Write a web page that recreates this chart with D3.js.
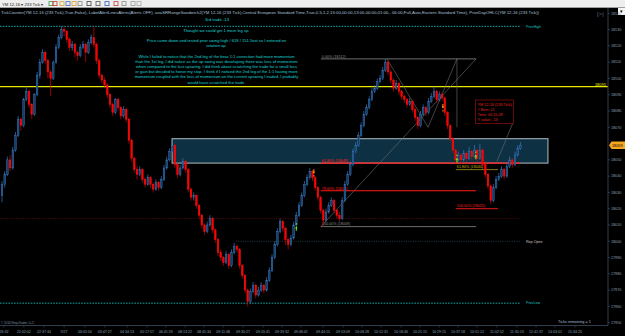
<!DOCTYPE html>
<html><head><meta charset="utf-8">
<script src="https://cdn.jsdelivr.net/npm/d3@7"></script>
<style>html,body{margin:0;padding:0;background:#000;overflow:hidden}svg{display:block;font-family:"Liberation Sans",Arial,sans-serif}</style>
</head><body><svg id="c" width="625" height="336"></svg>
<script>
// ---- data (YM 12-16, 233 tick bars) ----
const firstOpen = 18028;
const closes = [18035,18041,18050,18045,18056,18065,18075,18071,18087,18092,18084,18078,18090,18102,18110,18116,18111,18104,18100,18110,
18119,18125,18130,18129,18124,18119,18121,18116,18114,18119,18121,18116,18122,18125,18121,18111,18102,18099,18096,18090,
18084,18079,18087,18082,18077,18081,18075,18062,18051,18044,18041,18044,18038,18035,18039,18035,18032,18036,18033,18038,
18045,18050,18055,18059,18047,18041,18045,18049,18044,18032,18027,18028,18022,18016,18010,18006,18010,18014,18007,18001,
17993,17990,17987,17992,17985,17993,17997,17995,17985,17979,17970,17963,17969,17973,17967,17970,17973,17970,17976,17982,
17990,17998,18006,18012,18008,18001,17998,18002,18010,18016,18022,18028,18035,18039,18043,18039,18033,18027,18019,18013,
18018,18022,18025,18019,18016,18014,18025,18035,18041,18047,18055,18059,18065,18071,18078,18082,18087,18092,18094,18098,
18100,18105,18110,18104,18099,18094,18097,18092,18089,18087,18084,18086,18081,18076,18071,18078,18082,18079,18086,18089,
18092,18087,18090,18088,18079,18071,18063,18056,18050,18053,18050,18054,18051,18055,18052,18056,18051,18056,18047,18041,
18034,18025,18033,18038,18040,18044,18040,18046,18050,18047,18053,18057,18059];
const highs = [18037,18043,18052,18053,18058,18067,18077,18076,18088,18095,18093,18085,18091,18104,18112,18118,18117,18112,18105,18111,
18121,18127,18132,18132,18130,18125,18123,18122,18117,18121,18123,18122,18124,18127,18132,18122,18112,18103,18101,18097,
18091,18085,18088,18088,18083,18083,18082,18076,18063,18052,18046,18046,18045,18039,18041,18040,18036,18038,18037,18040,
18047,18052,18057,18062,18060,18048,18047,18051,18050,18045,18033,18030,18029,18023,18017,18011,18012,18016,18015,18008,
18002,17995,17991,17994,17993,17995,17999,17998,17996,17986,17980,17971,17971,17975,17974,17972,17975,17974,17978,17984,
17992,18000,18008,18014,18013,18009,18002,18004,18012,18018,18024,18030,18037,18041,18045,18044,18040,18034,18028,18020,
18020,18024,18027,18026,18020,18018,18027,18037,18043,18049,18057,18061,18067,18073,18080,18084,18089,18094,18096,18100,
18102,18107,18112,18111,18105,18100,18099,18098,18093,18090,18088,18088,18087,18082,18077,18080,18084,18083,18088,18091,
18095,18093,18092,18091,18089,18080,18072,18064,18057,18055,18054,18056,18055,18058,18056,18059,18057,18060,18057,18048,
18042,18035,18035,18040,18042,18046,18045,18048,18052,18051,18055,18059,18061];
const lows = [18024,18033,18040,18043,18044,18055,18064,18068,18070,18086,18082,18075,18077,18089,18100,18109,18109,18100,18089,18099,
18109,18118,18124,18126,18122,18117,18117,18113,18111,18113,18118,18110,18115,18121,18119,18109,18100,18097,18094,18088,
18082,18077,18078,18080,18075,18076,18073,18060,18049,18042,18038,18040,18036,18033,18034,18033,18030,18031,18031,18032,
18037,18044,18049,18054,18045,18039,18040,18044,18042,18030,18025,18025,18020,18014,18008,18004,18005,18009,18005,17999,
17991,17988,17985,17986,17983,17984,17992,17993,17983,17977,17968,17960,17962,17968,17965,17966,17969,17968,17969,17975,
17981,17989,17997,18005,18006,17998,17995,17997,18001,18009,18015,18021,18027,18034,18038,18037,18031,18025,18017,18009,
18012,18017,18021,18017,18014,18012,18013,18024,18034,18040,18046,18054,18058,18064,18070,18077,18081,18086,18091,18093,
18097,18099,18104,18102,18097,18092,18093,18090,18087,18085,18082,18083,18079,18074,18069,18070,18077,18077,18078,18085,
18088,18085,18086,18086,18077,18069,18061,18054,18048,18049,18048,18049,18049,18050,18050,18051,18049,18050,18045,18039,
18032,18023,18024,18032,18037,18039,18038,18039,18045,18045,18046,18052,18056];

const priceTicks = [17950,17960,17970,17980,17990,18000,18010,18020,18030,18040,18050,18070,18080,18090,18100,18110,18120,18130,18140];
const timeTickIdx = [0.7,8.1,15.6,23,30.7,38.1,46.3,53.7,60.7,67.8,74.8,81.9,89.3,96.7,103.7,110.7,118.9,126.3,133.3,140.4,147.8,154.8,161.9,168.9,175.9,183.3,190.7,197.8,204.8,212.2];
const timeTickLabels = ["26:32","22:02:02","22:37:44","9/27","03:05:54","03:47:27","04:34:13","05:17:57","06:41:59","08:13:22","08:45:34","09:11:48","09:30:27","09:20:41","09:33:32","09:48:41","09:44:15","09:53:09","10:08:28","10:12:31","10:18:46","10:21:15","10:29:15","10:37:18","10:51:12","11:02:52","11:30:13","12:41:37","14:03:01","15:34:25"];

const prevHigh = 18132, prevLow = 17962, yellowLevel = 18095, redDotted = 18014, repOpen = 18000, lastPrice = 18059;
const zoneTop = 18063, zoneBottom = 18048, zoneStartIdx = 63, zoneEndIdx = 202.2;

const fibLabels = ["0.00% (18112)","61.80% (18048)","78.60% (18031)","100.00% (18009)"];
const fibValues = [18112,18048,18031,18009];
const fibEndIdx = [175.6,191.9,175.6,175.6];
const fibColors = ["#8a8a8a","#ff1a1a","#ff1a1a","#8a8a8a"];
const fib2Labels = ["61.80% (18044)","100.00% (18020)"];
const fib2Values = [18044,18020];
const fib2Colors = ["#c8b400","#ff1a1a"];

const upArrows = [[109,18008],[168.5,18050],[175.5,18052]];
const downArrows = [[115.5,18043],[163.3,18083]];

const noteLines = ["Thought we could get 1 more leg up.","",
"Price came down and tested prior swing high / 618 / 151.5ext so I entered on","rotation up.","",
"While I failed to notice that the 2nd leg of the bear 1:1 correction had more momentum",
"than the 1st leg, I did notice as the up swing was developing there was loss of momentum",
"when compared to the last upswing.  I did think about scratching the trade for a small loss",
"or gain but decided to honor my stop.  I think if I noticed the 2nd leg of the 1:1 having more",
"momentum coupled with the loss of momentum on the current upswing I traded, I probably",
"would have scratched the trade."];
const infoLines = ["YM 12-16 (233 Tick)","# Bars:  11","Time:     00:15:28","Y value:  -13"];
const titleText = "TickCounter(YM 12-16 (233 Tick),True,False), LabelAlertLinesAlerts(Alerts OFF), anaSRRangeSandwich2(YM 12-16 (233 Tick),Central European Standard Time,True,0.5,1,2,15:00,00:00,13:00,00:00,01:00,- 06:00,Full,Auto,Eastern Standard Time), PriorDayOHLC(YM 12-16 (233 Tick))";

// ---- scales ----
const svg = d3.select("#c");
const xs = d3.scaleLinear().domain([0,192]).range([2,520.4]);
const ys = d3.scaleLinear().domain([17950,18140]).range([322.7,13.3]);
const axisX = 608, axisY = 325.5, plotRight = 520;

svg.append("rect").attr("width",625).attr("height",336).attr("fill","#000");

// toolbar
svg.append("rect").attr("x",0).attr("y",0).attr("width",625).attr("height",7.5).attr("fill","#eeeeee");
svg.append("line").attr("x1",0).attr("x2",625).attr("y1",7.5).attr("y2",7.5).attr("stroke","#b8b8b8").attr("stroke-width",0.6);
svg.append("text").attr("x",2).attr("y",5.6).attr("font-size",4.2).attr("fill","#222").text("YM 12-16 ▾  233 Tick ▾");
const iconCols = ["#3a9a3a","#d03030","#d8b020","#4070c0","#e0a020","#888","#444","#555","#3060c0","#c04040","#888","#999","#aaa"];
const iconX = [49,53,60,66,72,78,87,96,105,114,122,131,137];
iconX.forEach((x,i)=>svg.append("rect").attr("x",x).attr("y",1.6).attr("width",4).attr("height",4).attr("fill","none").attr("stroke",iconCols[i]).attr("stroke-width",0.8));
svg.append("rect").attr("x",618).attr("y",8).attr("width",7).attr("height",7).attr("fill","#f4f4f4");
svg.append("text").attr("x",621.5).attr("y",13).attr("font-size",4.5).attr("text-anchor","middle").attr("fill","#000").text("▾");

// title
svg.append("text").attr("x",1).attr("y",13.6).attr("font-size",4.2).attr("fill","#a9c1da")
  .attr("textLength",538).attr("lengthAdjust","spacingAndGlyphs").text(titleText);
svg.append("text").attr("x",597).attr("y",16).attr("font-size",6).attr("fill","#5a6a7a").text("[>|");

// zone
svg.append("rect").attr("x",xs(zoneStartIdx)).attr("y",ys(zoneTop)).attr("width",xs(zoneEndIdx)-xs(zoneStartIdx))
  .attr("height",ys(zoneBottom)-ys(zoneTop)).attr("fill","#0d3142").attr("stroke","#a3adb5").attr("stroke-width",1.1);

// level lines
svg.append("line").attr("x1",0).attr("x2",plotRight).attr("y1",ys(prevHigh)).attr("y2",ys(prevHigh)).attr("stroke","#12bcbc").attr("stroke-width",0.9).attr("stroke-dasharray","1.6,1.2");
svg.append("line").attr("x1",0).attr("x2",plotRight).attr("y1",ys(prevLow)).attr("y2",ys(prevLow)).attr("stroke","#12bcbc").attr("stroke-width",0.9).attr("stroke-dasharray","1.6,1.2");
svg.append("line").attr("x1",0).attr("x2",plotRight).attr("y1",ys(redDotted)).attr("y2",ys(redDotted)).attr("stroke","#7a0c0c").attr("stroke-width",0.7).attr("stroke-dasharray","1,1.3");
svg.append("line").attr("x1",xs(86.6)).attr("x2",plotRight).attr("y1",ys(repOpen)).attr("y2",ys(repOpen)).attr("stroke","#2e5a62").attr("stroke-width",0.7).attr("stroke-dasharray","1,1.3");
svg.append("line").attr("x1",0).attr("x2",axisX).attr("y1",ys(yellowLevel)).attr("y2",ys(yellowLevel)).attr("stroke","#e8e800").attr("stroke-width",1.1);
svg.append("text").attr("x",606).attr("y",ys(yellowLevel)-1).attr("font-size",4).attr("text-anchor","end").attr("fill","#e8e800").text(String(yellowLevel));
svg.append("text").attr("x",526).attr("y",ys(prevHigh)+1.3).attr("font-size",3.6).attr("fill","#19c4c4").text("PrevHigh");
svg.append("text").attr("x",526).attr("y",ys(prevLow)+1.3).attr("font-size",3.6).attr("fill","#19c4c4").text("PrevLow");
svg.append("text").attr("x",526).attr("y",ys(repOpen)+1.3).attr("font-size",3.6).attr("fill","#c8c8c8").text("Rep-Open");

// fib tool drawings
const g = svg.append("g");
g.append("line").attr("x1",xs(118.1)).attr("y1",ys(18009)).attr("x2",xs(175.6)).attr("y2",ys(18112)).attr("stroke","#6e6e6e").attr("stroke-width",0.6);
g.append("polyline").attr("points",[[xs(142.6),ys(18112)],[xs(157.8),ys(18070)],[xs(168.5),ys(18112)]].map(p=>p.join(",")).join(" "))
  .attr("fill","none").attr("stroke","#6e6e6e").attr("stroke-width",0.6);
g.append("line").attr("x1",xs(168.5)).attr("x2",xs(168.5)).attr("y1",ys(18112)).attr("y2",ys(18070)).attr("stroke","#6e6e6e").attr("stroke-width",0.6);
g.append("line").attr("x1",xs(189.3)).attr("y1",ys(18073)).attr("x2",xs(183.3)).attr("y2",ys(18049)).attr("stroke","#6e6e6e").attr("stroke-width",0.6);
fibValues.forEach((v,i)=>{
  g.append("line").attr("x1",xs(118.1)).attr("x2",xs(fibEndIdx[i])).attr("y1",ys(v)).attr("y2",ys(v))
    .attr("stroke",fibColors[i]).attr("stroke-width",i==1||i==2?1.1:0.8);
  g.append("text").attr("x",xs(118.1)+1).attr("y",ys(v)-1.2).attr("font-size",3.7).attr("fill",fibColors[i]).text(fibLabels[i]);
});
fib2Values.forEach((v,i)=>{
  g.append("line").attr("x1",xs(168.1)).attr("x2",xs(183.7)).attr("y1",ys(v)).attr("y2",ys(v))
    .attr("stroke",i==0?"#9a8a18":"#ff1a1a").attr("stroke-width",0.9);
  g.append("text").attr("x",xs(168.1)+1).attr("y",ys(v)-1.5).attr("font-size",3.7).attr("fill",fib2Colors[i]).text(fib2Labels[i]);
});

// candles
const bars = closes.map((c,i)=>({i, o: i===0?firstOpen:closes[i-1], h: highs[i], l: lows[i], c}));
const cg = svg.append("g");
cg.selectAll("line.w").data(bars).join("line").attr("class","w")
  .attr("x1",d=>xs(d.i)).attr("x2",d=>xs(d.i)).attr("y1",d=>ys(d.h)).attr("y2",d=>ys(d.l))
  .attr("stroke",d=>d.c>=d.o?"#3a78be":"#d40000").attr("stroke-width",0.7);
cg.selectAll("rect.b").data(bars).join("rect").attr("class","b")
  .attr("x",d=>xs(d.i)-0.8).attr("width",1.6)
  .attr("y",d=>ys(Math.max(d.o,d.c))).attr("height",d=>Math.max(1,Math.abs(ys(d.o)-ys(d.c))))
  .attr("fill",d=>d.c>=d.o?"#163d66":"#ff0000").attr("stroke",d=>d.c>=d.o?"#3b7cc4":"#ff1010").attr("stroke-width",0.45);

// signal arrows
upArrows.forEach(([i,v])=>{
  const x=xs(i), y=ys(v)-2;
  svg.append("path").attr("d",`M${x},${y} l-1.3,2 h0.8 v2.6 h1 v-2.6 h0.8 z`).attr("fill","#7cfc00");
  svg.append("rect").attr("x",x-0.6).attr("y",y-3).attr("width",1.2).attr("height",1.2).attr("fill","#7cfc00");
});
downArrows.forEach(([i,v])=>{
  const x=xs(i), y=ys(v)-2.5;
  svg.append("path").attr("d",`M${x},${y+5} l-1.3,-2 h0.8 v-2.6 h1 v2.6 h0.8 z`).attr("fill","#ffa500");
  svg.append("rect").attr("x",x-0.6).attr("y",y+6.5).attr("width",1.2).attr("height",1.2).attr("fill","#ffa500");
});

// info box
svg.append("rect").attr("x",475.5).attr("y",100).attr("width",38).attr("height",23.5).attr("fill","#000").attr("stroke","#b01010").attr("stroke-width",0.6);
infoLines.forEach((t,k)=>svg.append("text").attr("x",477.5).attr("y",105.5+k*5.3).attr("font-size",3.8).attr("fill","#e02020").text(t));

// notes
svg.append("text").attr("x",217).attr("y",21).attr("font-size",4.2).attr("text-anchor","middle").attr("fill","#17d4d4").text("3rd trade -13");
noteLines.forEach((t,k)=>{ if(!t) return;
  svg.append("text").attr("x",216.5).attr("y",31.5+k*5.22).attr("font-size",4.1).attr("text-anchor","middle").attr("fill","#17d4d4").text(t);
});

// price axis
svg.append("line").attr("x1",axisX).attr("x2",axisX).attr("y1",8).attr("y2",axisY).attr("stroke","#3b4d60").attr("stroke-width",0.8);
priceTicks.forEach(v=>{
  svg.append("line").attr("x1",axisX).attr("x2",axisX+2).attr("y1",ys(v)).attr("y2",ys(v)).attr("stroke","#3b4d60").attr("stroke-width",0.7);
  svg.append("text").attr("x",axisX+3).attr("y",ys(v)+1.3).attr("font-size",3.7).attr("fill","#8ea4bb").text(v);
});
const yl = ys(lastPrice);
svg.append("path").attr("d",`M${axisX+1},${yl} l2.5,-3.8 H625 V${yl+3.8} H${axisX+3.5} z`).attr("fill","#f5a623");
svg.append("text").attr("x",axisX+4).attr("y",yl+1.4).attr("font-size",3.8).attr("fill","#000").text(lastPrice);

// time axis
svg.append("line").attr("x1",0).attr("x2",axisX).attr("y1",axisY).attr("y2",axisY).attr("stroke","#3b4d60").attr("stroke-width",0.8);
timeTickIdx.forEach((t,k)=>{
  svg.append("line").attr("x1",xs(t)).attr("x2",xs(t)).attr("y1",axisY).attr("y2",axisY+2).attr("stroke","#3b4d60").attr("stroke-width",0.6);
  svg.append("text").attr("x",xs(t)).attr("y",axisY+7.2).attr("font-size",3.6).attr("text-anchor","middle").attr("fill","#8ea4bb").text(timeTickLabels[k]);
});
svg.append("text").attr("x",1).attr("y",324.3).attr("font-size",3).attr("fill","#7d90a5").text("© 2016 NinjaTrader, LLC");
svg.append("text").attr("x",558).attr("y",323).attr("font-size",3.8).attr("fill","#a9bfd6").text("Ticks remaining = 1");
</script></body></html>
